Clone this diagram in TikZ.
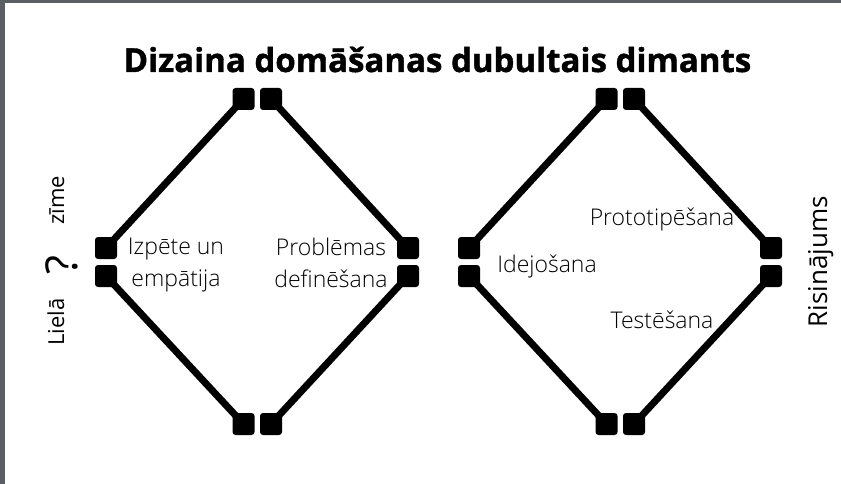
\documentclass[tikz,border=0pt]{standalone}
\usepackage{fontspec}
\setmainfont{Open Sans}
\newfontfamily\lightfont{Open Sans Light}
\newfontfamily\heavyfont{Open Sans Bold}[FakeBold=1.2]
\definecolor{framegray}{HTML}{5B5E63}

\begin{document}
\begin{tikzpicture}[x=1pt,y=-1pt,
    pad/.style={fill=black,rounded corners=3pt,minimum size=22pt,inner sep=0pt},
    rib/.style={line width=7pt},
    lbl/.style={font=\lightfont\fontsize{23}{32}\selectfont,align=center},
    side/.style={rotate=90,anchor=base,font=\fontsize{22}{26}\selectfont}]
                \useasboundingbox (0,0) rectangle (841,484);
                \fill[framegray] (0,0) rectangle (841,3);
                \fill[framegray] (0,0) rectangle (5,484);

                \node[anchor=base,font=\heavyfont\fontsize{33}{40}\selectfont] at (437.5,72) (title) {Dizaina domāšanas dubultais dimants};

                % two diamonds
                \foreach \dx/\d in {0/a,363/b}{
                    \node[pad] at (243.5+\dx,99) (\d-t1) {};
                    \node[pad] at (271+\dx,99) (\d-t2) {};
                    \node[pad] at (106+\dx,248) (\d-l1) {};
                    \node[pad] at (106+\dx,276) (\d-l2) {};
                    \node[pad] at (408+\dx,248) (\d-r1) {};
                    \node[pad] at (408+\dx,276) (\d-r2) {};
                    \node[pad] at (243.5+\dx,424) (\d-b1) {};
                    \node[pad] at (271+\dx,424) (\d-b2) {};
                    \draw[rib] (\d-t1.center) -- (\d-l1.center);
                    \draw[rib] (\d-t2.center) -- (\d-r1.center);
                    \draw[rib] (\d-l2.center) -- (\d-b1.center);
                    \draw[rib] (\d-r2.center) -- (\d-b2.center);
                }

                \node[lbl] at (176,265) (research) {Izpēte un\\empātija};
                \node[lbl] at (331,263) (define) {Problēmas\\definēšana};
                \node[lbl,anchor=base] at (547,272) (ideate) {Idejošana};
                \node[lbl,anchor=base] at (662,225) (proto) {Prototipēšana};
                \node[lbl,anchor=base] at (662,328) (test) {Testēšana};

                \node[side] at (64,322) (big) {Lielā};
                \node[side,font=\fontsize{44}{50}\selectfont] at (77,265) (qmark) {?};
                \node[side] at (64,200) (mark) {zīme};
                \node[side,font=\fontsize{26}{30}\selectfont] at (827,262) (solution) {Risinājums};
            \end{tikzpicture}
\end{document}
